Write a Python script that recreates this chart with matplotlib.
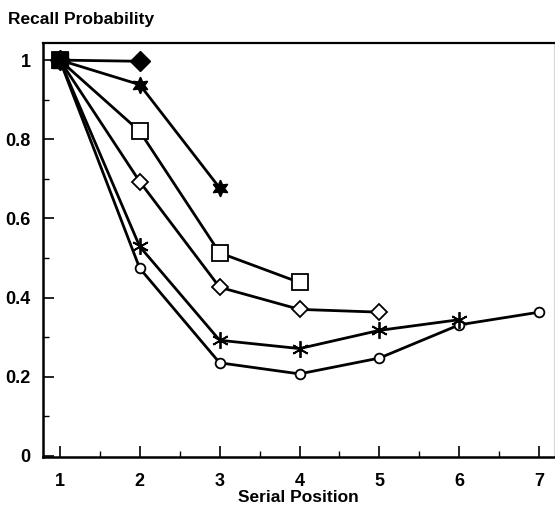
import matplotlib
matplotlib.use("Agg")
import matplotlib.pyplot as plt
from matplotlib.ticker import MultipleLocator

plt.rcParams['font.family'] = ['Liberation Sans', 'DejaVu Sans']
plt.rcParams['font.weight'] = 'bold'

# serial positions and recall probabilities per list length
x_len2 = [1, 2]
y_len2 = [1.0, 0.997]
x_len3 = [1, 2, 3]
y_len3 = [1.0, 0.938, 0.677]
x_len4 = [1, 2, 3, 4]
y_len4 = [1.0, 0.82, 0.513, 0.438]
x_len5 = [1, 2, 3, 4, 5]
y_len5 = [1.0, 0.693, 0.426, 0.370, 0.363]
x_len6 = [1, 2, 3, 4, 5, 6]
y_len6 = [1.0, 0.529, 0.292, 0.271, 0.317, 0.344]
x_len7 = [1, 2, 3, 4, 5, 6, 7]
y_len7 = [1.0, 0.474, 0.235, 0.207, 0.247, 0.331, 0.363]

fig = plt.figure(figsize=(5.55, 5.11), dpi=100)
ax = fig.add_axes([0.0775, 0.1057, 0.92, 0.81])

lw = 2.0
ax.plot(x_len7, y_len7, color='black', lw=lw, marker='o', ms=7,
        mfc='white', mec='black', mew=1.3)
ax.plot(x_len6, y_len6, color='black', lw=lw, marker=(6, 2, 0), ms=12,
        mec='black', mew=1.3)
ax.plot(x_len5, y_len5, color='black', lw=lw, marker='D', ms=8.5,
        mfc='white', mec='black', mew=1.3)
ax.plot(x_len4, y_len4, color='black', lw=lw, marker='s', ms=11,
        mfc='white', mec='black', mew=1.3)
ax.plot(x_len3, y_len3, color='black', lw=lw, marker=(6, 1, 0), ms=12,
        mfc='black', mec='black')
ax.plot(x_len2, y_len2, color='black', lw=lw, marker='D', ms=10,
        mfc='black', mec='black')
# the overlapping start markers read as one solid square
ax.plot(x_len4[:1], y_len4[:1], ls='none', marker='s', ms=11,
        mfc='black', mec='black')

ax.set_xlim(0.79, 7.18)
ax.set_ylim(-0.003, 1.043)
ax.xaxis.set_major_locator(MultipleLocator(1))
ax.xaxis.set_minor_locator(MultipleLocator(0.5))
ax.yaxis.set_minor_locator(MultipleLocator(0.1))
ax.set_yticks([0, 0.2, 0.4, 0.6, 0.8, 1.0])
ax.set_yticklabels(['0', '0.2', '0.4', '0.6', '0.8', '1'])

ax.tick_params(which='major', direction='in', length=8, width=1.2,
               labelsize=13)
ax.tick_params(which='minor', direction='in', length=4, width=1.0)
ax.tick_params(axis='x', which='major', pad=11.5)
ax.tick_params(axis='y', which='major', pad=9)

for s in ['left', 'bottom']:
    ax.spines[s].set_linewidth(1.8)
ax.spines['top'].set_linewidth(1.6)
ax.spines['right'].set_linewidth(0.8)
ax.spines['right'].set_color('#d8d8d8')

ax.set_xlabel('Serial Position', fontsize=12.5, fontweight='bold', labelpad=0)
fig.text(0.014, 0.961, 'Recall Probability', fontsize=12.5, fontweight='bold',
         ha='left', va='center')

plt.savefig('out.png', dpi=100, facecolor='white')
